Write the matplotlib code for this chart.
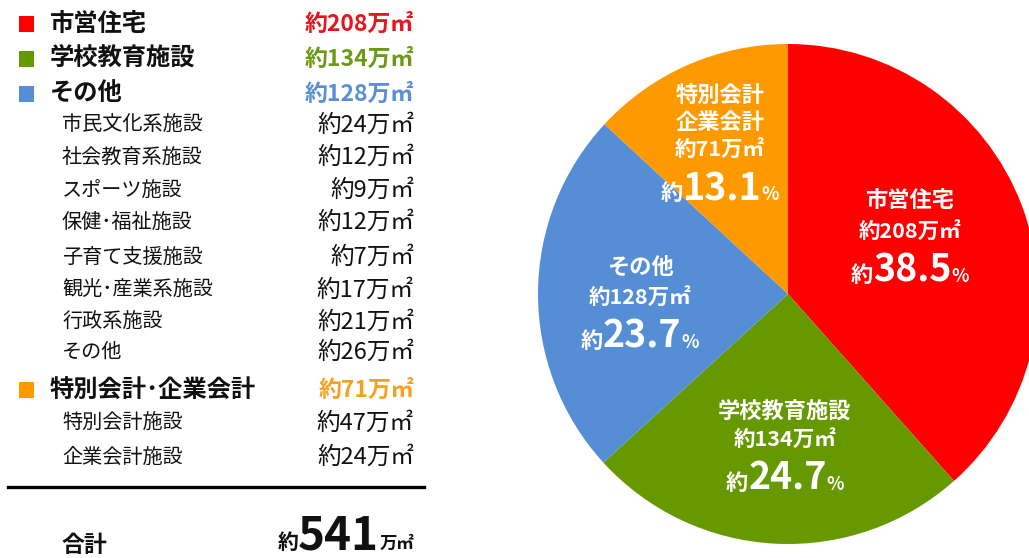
import matplotlib
matplotlib.use("Agg")
import matplotlib.pyplot as plt
from matplotlib.patches import Rectangle
from matplotlib.lines import Line2D

plt.rcParams['font.family'] = ['Noto Sans CJK JP', 'DejaVu Sans']

# ---- data ----
categories = ["市営住宅", "学校教育施設", "その他", "特別会計･企業会計"]
pie_labels = ["市営住宅", "学校教育施設", "その他", "特別会計\n企業会計"]
values = [208, 134, 128, 71]          # 万㎡
percents = ["38.5", "24.7", "23.7", "13.1"]
colors = ["#FF0000", "#669900", "#558ED5", "#FF9900"]
text_colors = ["#E8141E", "#6B9A14", "#5A8FD3", "#F5A21E"]

sub_other_labels = ["市民文化系施設", "社会教育系施設", "スポーツ施設", "保健･福祉施設",
                    "子育て支援施設", "観光･産業系施設", "行政系施設", "その他"]
sub_other_values = [24, 12, 9, 12, 7, 17, 21, 26]
sub_special_labels = ["特別会計施設", "企業会計施設"]
sub_special_values = [47, 24]
total_value = 541

W, H = 1029, 558
fig = plt.figure(figsize=(W / 100, H / 100), dpi=100)
fig.patch.set_facecolor("white")


def fx(x):
    return x / W


def fy(y):
    return 1 - y / H


def txt(x, y, s, **kw):
    return fig.text(fx(x), fy(y), s, **kw)


# ---- left table ----
main_rows_y = [24, 59, 94]
sub_rows_y = [125, 157, 190, 222, 257, 290, 322, 352]
special_y = 390
special_sub_y = [423, 457]
label_x_main = 50
label_x_sub = 62
value_right = 414

def square(y, color):
    fig.add_artist(Rectangle((fx(19), fy(y + 8)), 15 / W, 16 / H,
                             transform=fig.transFigure, facecolor=color,
                             edgecolor="none"))

def main_row(y, label, value, color, tcolor):
    square(y, color)
    txt(label_x_main, y, label, fontsize=17.5, fontweight="bold",
        va="center", ha="left", color="#111111")
    txt(value_right, y, f"約{value}万㎡", fontsize=16.5, fontweight="bold",
        va="center", ha="right", color=tcolor)

def sub_row(y, label, value):
    txt(label_x_sub, y, label, fontsize=14.5, va="center", ha="left",
        color="#111111")
    txt(value_right, y, f"約{value}万㎡", fontsize=17, va="center",
        ha="right", color="#111111")

for i in range(3):
    main_row(main_rows_y[i], categories[i], values[i], colors[i], text_colors[i])
for y, lab, v in zip(sub_rows_y, sub_other_labels, sub_other_values):
    sub_row(y, lab, v)
main_row(special_y, categories[3], values[3], colors[3], text_colors[3])
for y, lab, v in zip(special_sub_y, sub_special_labels, sub_special_values):
    sub_row(y, lab, v)

fig.add_artist(Line2D([fx(8), fx(424)], [fy(487), fy(487)],
                      transform=fig.transFigure, color="black", lw=2.4))

txt(label_x_sub, 545, "合計", fontsize=16.5, fontweight="bold", va="center",
    ha="left", color="#111111")

fig.canvas.draw()
renderer = fig.canvas.get_renderer()


def compose(parts, x_center, y_base, ha="center"):
    """parts: list of (string, fontsize, weight, color) drawn side by side on one baseline."""
    objs = []
    for s, size, weight, color in parts:
        t = txt(0, y_base, s, fontsize=size, fontweight=weight, color=color,
                va="baseline", ha="left")
        objs.append(t)
    widths = [o.get_window_extent(renderer).width for o in objs]
    total = sum(widths)
    if ha == "center":
        x = x_center - total / 2
    else:  # right
        x = x_center - total
    for o, w in zip(objs, widths):
        o.set_x(fx(x))
        x += w
    return objs


compose([("約", 15, "bold", "#111111"),
         (str(total_value), 33, "bold", "#111111"),
         ("万㎡", 12.5, "bold", "#111111")], value_right, 549, ha="right")

# ---- pie ----
cx, cy, r = 788, 294, 250
ax = fig.add_axes([fx(cx - r), fy(cy + r), 2 * r / W, 2 * r / H])
ax.pie(values, colors=colors, startangle=90, counterclock=False,
       wedgeprops=dict(linewidth=0))
ax.set_xlim(-1, 1)
ax.set_ylim(-1, 1)
ax.set_aspect("auto")
ax.axis("off")

# label anchor centres (pixel coordinates of first line centre)
label_pos = [(910, 200), (785, 411), (640, 267), (720, 95)]
line_gaps = [31, 28, 30, 27]
for i in range(4):
    x0, y0 = label_pos[i]
    g = line_gaps[i]
    lines = pie_labels[i].split("\n")
    y = y0
    for ln in lines:
        txt(x0, y, ln, fontsize=16, fontweight="bold", color="white",
            ha="center", va="center")
        y += g
    txt(x0, y, f"約{values[i]}万㎡", fontsize=15.5, fontweight="bold",
        color="white", ha="center", va="center")
    y += 38
    compose([("約", 16, "bold", "white"),
             (percents[i], 27, "bold", "white"),
             ("%", 13, "bold", "white")], x0, y + 13)

fig.savefig("out.png", dpi=100, facecolor="white")
